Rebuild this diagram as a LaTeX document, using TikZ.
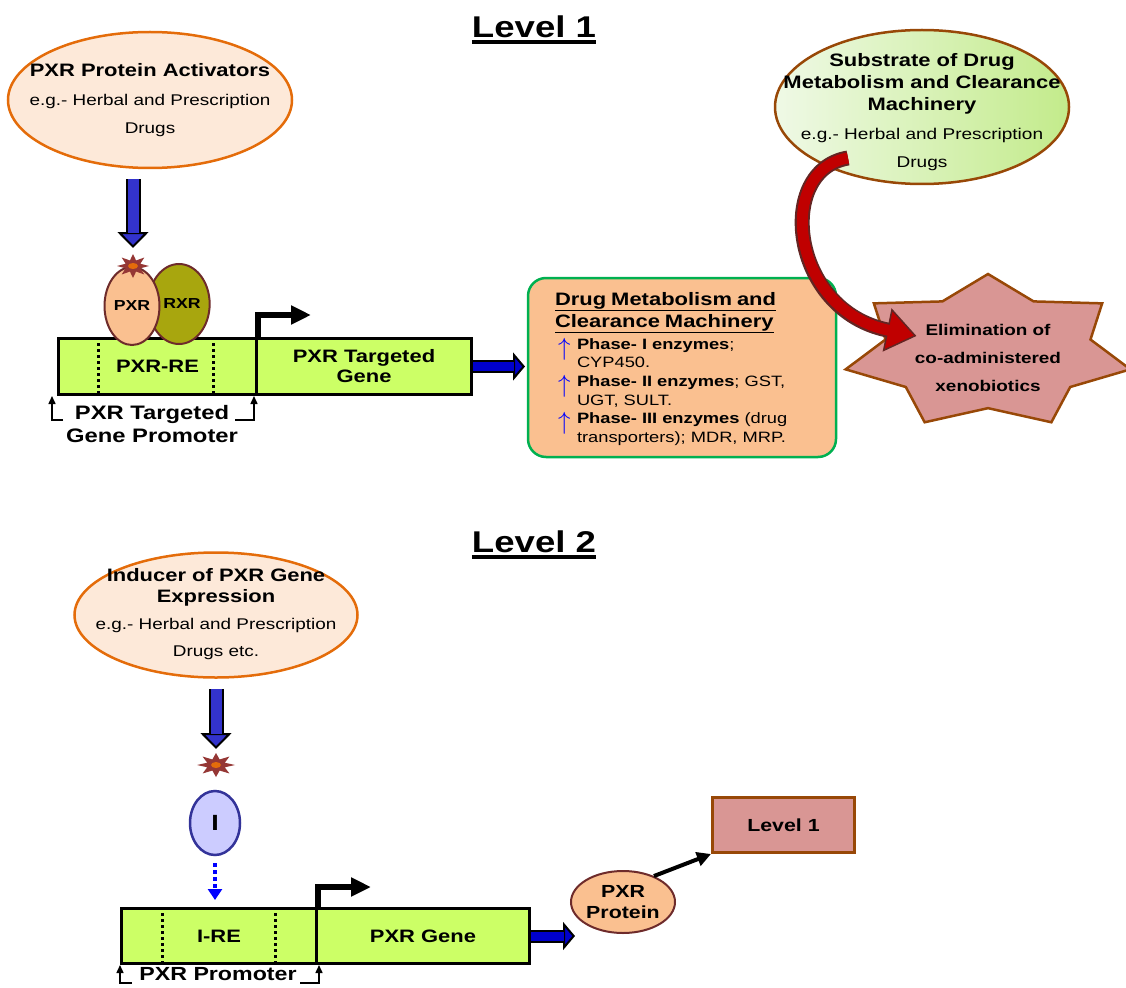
\documentclass[tikz,border=0pt]{standalone}
\usepackage{fontspec}
\setmainfont{Liberation Sans}[FakeStretch=1.22]
\usetikzlibrary{arrows.meta,calc,positioning,shapes.geometric}
\definecolor{peachFill}{HTML}{FDE9D9}
\definecolor{orangeLine}{HTML}{E46C0A}
\definecolor{pxrFill}{HTML}{FAC090}
\definecolor{pxrLine}{HTML}{6E2B2B}
\definecolor{rxrFill}{HTML}{A8A60E}
\definecolor{geneGreen}{HTML}{CCFF66}
\definecolor{boxGreen}{HTML}{00B050}
\definecolor{downBlue}{HTML}{3333CC}
\definecolor{sideBlue}{HTML}{0000CC}
\definecolor{arrBlue}{HTML}{0000FF}
\definecolor{iFill}{HTML}{CCCCFF}
\definecolor{iLine}{HTML}{333399}
\definecolor{roseFill}{HTML}{D99694}
\definecolor{brownLine}{HTML}{984807}
\definecolor{sparkRed}{HTML}{953735}
\definecolor{curveRed}{HTML}{C00000}
\definecolor{curveLine}{HTML}{632523}
\definecolor{subLeft}{HTML}{EFF9E6}
\definecolor{subRight}{HTML}{C3EB8B}
\newcommand{\fs}[2]{\fontsize{#1}{#2}\selectfont}
\newcommand{\uparr}{\smash{\raisebox{-6pt}{\textcolor{arrBlue}{\fs{23}{23}$\uparrow$}}}}
% text set inside an oval of fixed size
\newcommand{\ovtxt}[2][-4pt]{\smash{\makebox[0pt]{\raisebox{#1}{\begin{tabular}{@{}c@{}}#2\end{tabular}}}}}
\newcommand{\spark}[4]{%
  \fill[sparkRed] plot[domain=0:15,samples=16,variable=\k]
    ({#1+#3*(1-0.5*mod(round(\k),2))*cos(90+22.5*\k)},{#2+#4*(1-0.5*mod(round(\k),2))*sin(90+22.5*\k)}) -- cycle;
  \fill[orangeLine] (#1,#2) ellipse (5 and 3);}
\tikzset{
  oval/.style={ellipse, draw=orangeLine, line width=2.5pt, fill=peachFill, inner sep=0pt},
  genebar/.style={draw, line width=3pt, fill=geneGreen, anchor=north west, inner sep=0pt, align=center, font=\fs{18}{20}\bfseries},
  dotline/.style={line width=3pt, dash pattern=on 3pt off 3pt},
  tss/.style={line width=6pt, line join=miter, -{Triangle[length=20pt,width=18pt]}},
  bracket/.style={line width=1.5pt, -{Triangle[length=8pt,width=7pt]}},
}

\begin{document}
\begin{tikzpicture}[x=1pt,y=-1pt]
\useasboundingbox (0,0) rectangle (1126,987);

% ---- Level 1
\node[font=\fs{30}{34}\bfseries, inner sep=0pt] (lev1) at (534,27) {Level 1};
\draw[line width=3.5pt] ([yshift=-4pt]lev1.south west) -- ([yshift=-4pt]lev1.south east);

\node[oval, minimum width=284, minimum height=136, font=\fs{15.5}{28}] (act) at (150,100)
  {\ovtxt[-3.4pt]{{\fs{18}{28}\bfseries PXR Protein Activators}\\[1pt]e.g.- Herbal and Prescription\\Drugs}};

\node[genebar, minimum width=198, minimum height=56] (prom1) at (57,337) {PXR-RE};
\node[genebar, minimum width=215, minimum height=56] (gene1) at (255,337) {PXR Targeted\\Gene};
\draw[dotline] ([xshift=41pt]prom1.north west) -- ([xshift=41pt]prom1.south west);
\draw[dotline] ([xshift=156pt]prom1.north west) -- ([xshift=156pt]prom1.south west);
\draw[tss] (prom1.north east) -- ++(0,-22) -- ++(53,0);

\node[ellipse, draw=pxrLine, line width=2pt, fill=rxrFill, minimum width=52, minimum height=80, inner sep=0pt, font=\fs{14.5}{16}\bfseries] (rxr) at (179,304) {\hspace*{6pt}RXR};
\node[ellipse, draw=pxrLine, line width=2pt, fill=pxrFill, minimum width=55, minimum height=78, inner sep=0pt, font=\fs{14.5}{16}\bfseries] (pxr) at (132,306) {PXR};
\coordinate (sparkA) at (133,266);
\spark{133}{266}{16}{12}

\draw[line width=15pt, -{Triangle[length=16pt,width=31pt,line width=2pt,fill=downBlue]}] ([xshift=-17pt,yshift=-10pt]act.south) -- ([yshift=18pt]sparkA);
\draw[line width=11pt, downBlue, shorten >=15pt] ([xshift=-17pt,yshift=-10pt]act.south) -- ([yshift=18pt]sparkA);

\node[font=\fs{19.5}{23}\bfseries, align=center] (promLbl1) at (152,424) {PXR Targeted\\Gene Promoter};
\draw[bracket] ([xshift=6pt,yshift=-24pt]prom1.south west) -| ([xshift=-5pt]prom1.south west);
\draw[bracket] ([xshift=-23pt,yshift=-24pt]prom1.south east) -| ([xshift=-4pt]prom1.south east);

\draw[line width=13pt, -{Triangle[length=12pt,width=28pt,line width=2pt,fill=sideBlue]}] (gene1.east) -- ([xshift=52pt]gene1.east);
\draw[line width=9pt, sideBlue, shorten >=11pt] (gene1.east) -- ([xshift=52pt]gene1.east);

\node[draw=boxGreen, line width=2.5pt, fill=pxrFill, rounded corners=18pt, minimum width=308, minimum height=179,
      text width=254, inner xsep=27pt, align=left, font=\fs{15}{18.7}] (dmcm) at (682,367.5)
  {{\fs{18}{22}\bfseries\rule{0pt}{16pt}\underline{Drug Metabolism and}\\\underline{Clearance Machinery}\par}\vspace{3pt}
   \makebox[22pt][l]{\hspace{3pt}\uparr}\textbf{Phase- I enzymes};\\
   \hspace*{22pt}CYP450.\\
   \makebox[22pt][l]{\hspace{3pt}\uparr}\textbf{Phase- II enzymes}; GST,\\
   \hspace*{22pt}UGT, SULT.\\
   \makebox[22pt][l]{\hspace{3pt}\uparr}\textbf{Phase- III enzymes} (drug\\
   \hspace*{22pt}transporters); MDR, MRP.};

\node[ellipse, draw=brownLine, line width=2.5pt, left color=subLeft, right color=subRight, minimum width=294, minimum height=154,
      inner sep=0pt, font=\fs{15.6}{22}] (subs) at (922,107)
  {\ovtxt[-9.6pt]{{\fs{18}{22}\bfseries Substrate of Drug}\\{\fs{18}{22}\bfseries Metabolism and Clearance}\\{\fs{18}{22}\bfseries Machinery}\\[7pt]
   e.g.- Herbal and Prescription\\[6pt]Drugs}};

% elimination star
\filldraw[fill=roseFill, draw=brownLine, line width=2.5pt, line join=miter]
  plot[domain=0:13,samples=14,variable=\k]
  ({988+146*(1-0.28*mod(round(\k),2))*cos(-90+360/14*\k)},{352+78*(1-0.28*mod(round(\k),2))*sin(-90+360/14*\k)}) -- cycle;
\node[font=\fs{15.5}{28}\bfseries, align=center] (elim) at (988,358) {Elimination of\\co-administered\\xenobiotics};

\coordinate (curveTail) at (848,158);
\draw[line width=15pt, draw=curveLine, -{Triangle[length=30pt,width=44pt,line width=1.5pt,fill=curveRed]}]
  (curveTail) .. controls (775,170) and (790,310) .. ([xshift=5pt,yshift=22pt]elim.west);
\draw[line width=11pt, curveRed, shorten >=28pt]
  (curveTail) .. controls (775,170) and (790,310) .. ([xshift=5pt,yshift=22pt]elim.west);

% ---- Level 2
\node[font=\fs{30}{34}\bfseries, inner sep=0pt] (lev2) at (534,542) {Level 2};
\draw[line width=3.5pt] ([yshift=-4pt]lev2.south west) -- ([yshift=-4pt]lev2.south east);

\node[oval, minimum width=283, minimum height=125, font=\fs{15.5}{21}] (ind) at (216,615)
  {\ovtxt[-3.3pt]{{\fs{18}{21}\bfseries Inducer of PXR Gene}\\{\fs{18}{21}\bfseries Expression}\\[6pt]e.g.- Herbal and Prescription\\[6pt]Drugs etc.}};

\coordinate (sparkB) at (216,765);
\spark{216}{765}{19}{12}
\draw[line width=15pt, -{Triangle[length=16pt,width=31pt,line width=2pt,fill=downBlue]}] ([yshift=-10pt]ind.south) -- ([yshift=16pt]sparkB);
\draw[line width=11pt, downBlue, shorten >=15pt] ([yshift=-10pt]ind.south) -- ([yshift=16pt]sparkB);

\node[ellipse, draw=iLine, fill=iFill, line width=2.5pt, minimum width=50, minimum height=64, inner sep=0pt, font=\fs{22}{24}\bfseries] (inuc) at (215,823) {I};

\node[genebar, minimum width=195, minimum height=55] (prom2) at (120,907) {I-RE};
\node[genebar, minimum width=213, minimum height=55] (gene2) at (315,907) {PXR Gene};
\draw[dotline] ([xshift=42pt]prom2.north west) -- ([xshift=42pt]prom2.south west);
\draw[dotline] ([xshift=155pt]prom2.north west) -- ([xshift=155pt]prom2.south west);
\draw[tss] (prom2.north east) -- ++(0,-20) -- ++(53,0);

\draw[arrBlue, line width=4.5pt, dash pattern=on 4pt off 3pt, -{Triangle[length=11pt,width=14pt]}]
  ([yshift=-7pt]inuc.south) -- ($(inuc.south |- prom2.north)+(0,-7)$);

\node[font=\fs{19}{23}\bfseries] (promLbl2) at (218,974) {PXR Promoter};
\draw[bracket] ([xshift=12pt,yshift=-18pt]prom2.south west) -| ([xshift=0pt]prom2.south west);
\draw[bracket] ([xshift=-18pt,yshift=-18pt]prom2.south east) -| ([xshift=1pt]prom2.south east);

\node[ellipse, draw=pxrLine, line width=2pt, fill=pxrFill, minimum width=104, minimum height=62, inner sep=0pt, align=center, font=\fs{17.5}{21}\bfseries] (prot) at (623,902) {PXR\\Protein};
\draw[line width=13pt, -{Triangle[length=12pt,width=28pt,line width=2pt,fill=sideBlue]}] (gene2.east) -- ([xshift=5pt]gene2.east -| prot.west);
\draw[line width=9pt, sideBlue, shorten >=11pt] (gene2.east) -- ([xshift=5pt]gene2.east -| prot.west);

\node[draw=brownLine, line width=3pt, fill=roseFill, minimum width=142, minimum height=55, anchor=north west, font=\fs{17.5}{20}\bfseries] (lvlbox) at (711,796) {Level 1};
\draw[line width=4pt, -{Triangle[length=14pt,width=14pt]}] (prot.40) -- (lvlbox.south west);
\end{tikzpicture}
\end{document}
